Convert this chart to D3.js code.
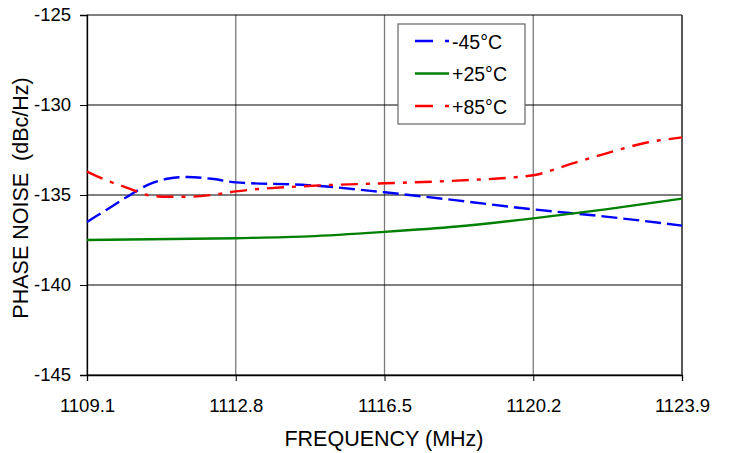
<!DOCTYPE html>
<html>
<head>
<meta charset="utf-8">
<script src="https://cdn.jsdelivr.net/npm/d3@7"></script>
<style>
  body { margin: 0; background: #fff; }
  svg text { font-family: "Liberation Sans", Arial, sans-serif; fill: #000; }
</style>
</head>
<body>
<div id="chart"></div>
<script>
// frequency points (MHz) and phase noise (dBc/Hz) per temperature
const freqBlue = [1109.1, 1109.6, 1110.1, 1110.6, 1111.1, 1111.6, 1112.2, 1112.8, 1114.6, 1116.5, 1118.3, 1120.2, 1122.0, 1123.9];
const noiseBlue = [-136.5, -135.8, -135.1, -134.45, -134.1, -134.0, -134.1, -134.3, -134.45, -134.85, -135.3, -135.8, -136.2, -136.7];

const freqGreen = [1109.1, 1112.8, 1114.6, 1116.5, 1118.3, 1120.2, 1122.0, 1123.9];
const noiseGreen = [-137.5, -137.4, -137.3, -137.05, -136.75, -136.3, -135.8, -135.2];

const freqRed = [1109.1, 1109.6, 1110.1, 1110.6, 1111.1, 1111.6, 1112.2, 1112.8, 1114.6, 1116.5, 1118.3, 1120.2, 1121.1, 1122.0, 1123.0, 1123.9];
const noiseRed = [-133.7, -134.2, -134.6, -135.0, -135.1, -135.1, -135.0, -134.8, -134.5, -134.35, -134.2, -133.9, -133.3, -132.7, -132.1, -131.8];

const xTicks = [1109.1, 1112.8, 1116.5, 1120.2, 1123.9];
const yTicks = [-145, -140, -135, -130, -125];
const seriesNames = ["-45°C", "+25°C", "+85°C"];
const seriesColors = ["#0000ff", "#008000", "#ff0000"];
const seriesDash = ["16,6", null, "17,8,4,8"];

const W = 730, H = 453;
const m = {top: 15, right: 48, bottom: 78, left: 87};
const w = W - m.left - m.right;
const h = H - m.top - m.bottom;

const svg = d3.select("#chart").append("svg")
    .attr("width", W)
    .attr("height", H);

const g = svg.append("g").attr("transform", "translate(" + m.left + "," + m.top + ")");

const x = d3.scaleLinear().domain([1109.1, 1123.9]).range([0, w]);
const y = d3.scaleLinear().domain([-145, -125]).range([h, 0]);

// grid: vertical gray, horizontal black
g.selectAll(".vgrid").data(xTicks).enter().append("line")
    .attr("x1", d => x(d)).attr("x2", d => x(d))
    .attr("y1", 0).attr("y2", h)
    .attr("stroke", "#7a7a7a").attr("stroke-width", 1.3);

g.selectAll(".hgrid").data(yTicks).enter().append("line")
    .attr("x1", 0).attr("x2", w)
    .attr("y1", d => y(d)).attr("y2", d => y(d))
    .attr("stroke", "#000").attr("stroke-width", 1);

// axes
const xAxis = g.append("g")
    .attr("transform", "translate(0," + h + ")")
    .call(d3.axisBottom(x).tickValues(xTicks).tickFormat(d3.format(".1f")).tickSize(6).tickPadding(18));
const yAxis = g.append("g")
    .call(d3.axisLeft(y).tickValues(yTicks).tickFormat(d => String(d)).tickSize(7).tickPadding(9));

[xAxis, yAxis].forEach(a => {
    a.selectAll("text").style("font-size", "18.5px").style("font-family", "'Liberation Sans', Arial, sans-serif");
    a.select(".domain").attr("stroke", "#000").attr("stroke-width", 1.3);
    a.selectAll(".tick line").attr("stroke", "#000");
});

// right border
g.append("line")
    .attr("x1", w).attr("x2", w).attr("y1", 0).attr("y2", h)
    .attr("stroke", "#444").attr("stroke-width", 1.6);

// curves
const line = d3.line()
    .x(d => x(d[0]))
    .y(d => y(d[1]))
    .curve(d3.curveMonotoneX);

const series = [
    d3.zip(freqBlue, noiseBlue),
    d3.zip(freqGreen, noiseGreen),
    d3.zip(freqRed, noiseRed)
];

const plot = g.append("g");
series.forEach((s, i) => {
    plot.append("path")
        .datum(s)
        .attr("d", line)
        .attr("fill", "none")
        .attr("stroke", seriesColors[i])
        .attr("stroke-width", 2.4)
        .attr("stroke-dasharray", seriesDash[i]);
});

// legend
const lg = svg.append("g").attr("transform", "translate(398,24)");
lg.append("rect")
    .attr("width", 127).attr("height", 100)
    .attr("fill", "#fff").attr("stroke", "#666").attr("stroke-width", 1.2);
seriesNames.forEach((name, i) => {
    const yy = 17 + i * 32.5;
    lg.append("line")
        .attr("x1", 17).attr("x2", 51)
        .attr("y1", yy).attr("y2", yy)
        .attr("stroke", seriesColors[i])
        .attr("stroke-width", 2.4)
        .attr("stroke-dasharray", i === 1 ? null : "18,12,4,20");
    lg.append("text")
        .attr("x", 54).attr("y", yy + 7.5)
        .style("font-size", "19.5px")
        .text(name);
});

// axis titles
svg.append("text")
    .attr("x", 384).attr("y", 446)
    .attr("text-anchor", "middle")
    .style("font-size", "21.5px")
    .text("FREQUENCY (MHz)");

svg.append("text")
    .attr("transform", "translate(28," + (m.top + h / 2 + 3) + ") rotate(-90)")
    .attr("text-anchor", "middle")
    .style("font-size", "21.5px")
    .attr("xml:space", "preserve")
    .text("PHASE NOISE  (dBc/Hz)");
</script>
</body>
</html>
